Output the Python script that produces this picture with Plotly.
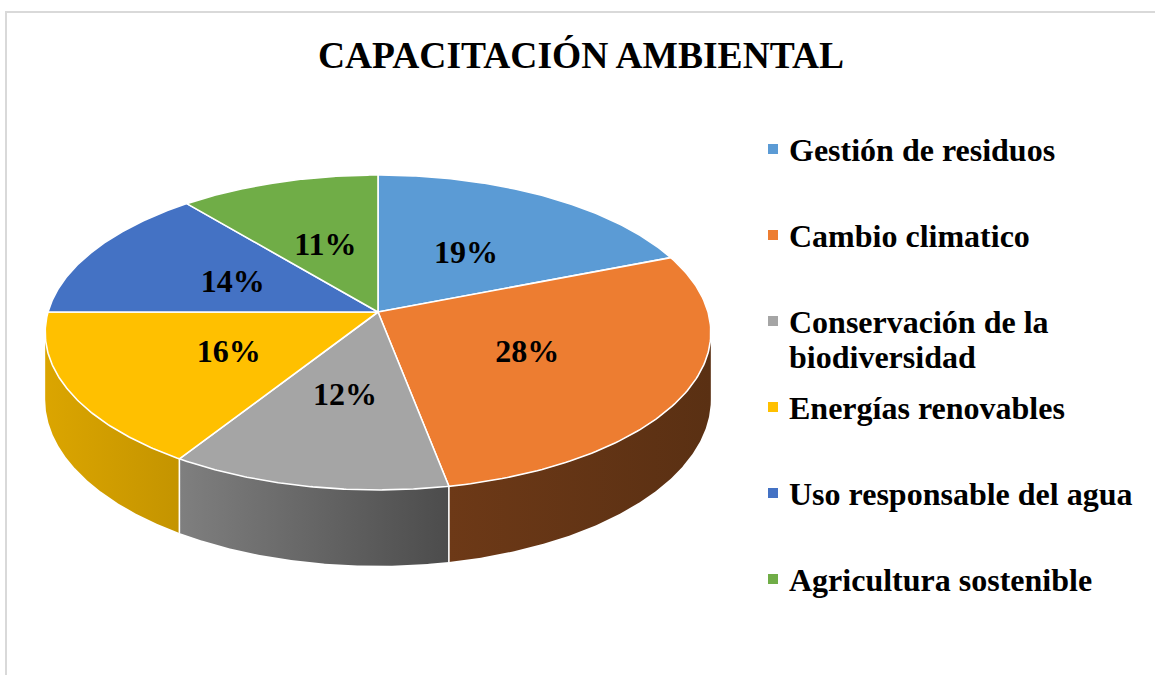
import numpy as np
import plotly.graph_objects as go

# ---------------- data ----------------
categories = ["Gestión de residuos", "Cambio climatico", "Conservación de la biodiversidad",
              "Energías renovables", "Uso responsable del agua", "Agricultura sostenible"]
legend_lines = [["Gestión de residuos"], ["Cambio climatico"], ["Conservación de la", "biodiversidad"],
                ["Energías renovables"], ["Uso responsable del agua"], ["Agricultura sostenible"]]
values = [19, 28, 12, 16, 14, 11]
colors = ["#5B9BD5", "#ED7D31", "#A5A5A5", "#FFC000", "#4472C4", "#70AD47"]
title_text = "CAPACITACIÓN AMBIENTAL"

# ---------------- 3D pie geometry (perspective projection of a disc) ----------------
CX, CY = 378.0, 312.0      # projected centre of the top face (pixels)
A, B = 330.0, 154.8        # horizontal / depth radii
K = 0.13                   # perspective strength
H = 66.0                   # thickness
SIL = np.degrees(np.arccos(-K))  # silhouette angle (~97.5 deg)

def proj(r, phi_deg, z=0.0):
    ph = np.radians(phi_deg)
    u = r * np.sin(ph)
    v = -r * np.cos(ph)
    s = 1.0 / (1.0 - K * v)
    return CX + A * u * s, CY + (B * v + z * H) * s

FONT = "Liberation Serif"
total = float(sum(values))
bounds = np.concatenate([[0.0], np.cumsum(values)]) / total * 360.0

def shade(hex_color, f):
    h = hex_color.lstrip("#")
    r, g, b = (int(h[i:i + 2], 16) for i in (0, 2, 4))
    return "rgb(%d,%d,%d)" % (round(r * f), round(g * f), round(b * f))

def light(x):
    return float(np.interp(x, [45, 180, 457, 711], [0.86, 0.77, 0.45, 0.38]))

fig = go.Figure()

# side walls (front half only), one polygon per slice with a horizontal gradient
for i, col in enumerate(colors):
    a0, a1 = bounds[i], bounds[i + 1]
    b0, b1 = max(a0, SIL), min(a1, 360.0 - SIL)
    if b1 <= b0:
        continue
    ts = np.linspace(b0, b1, 200)
    xt, yt = proj(1.0, ts)
    xb, yb = proj(1.0, ts[::-1], 1.0)
    xs = np.concatenate([xt, xb, xt[:1]])
    ys = np.concatenate([yt, yb, yt[:1]])
    cl, cr = shade(col, light(xs.min())), shade(col, light(xs.max()))
    fig.add_trace(go.Scatter(
        x=xs, y=ys, fill="toself",
        fillgradient=dict(type="horizontal", colorscale=[[0, cl], [1, cr]]),
        mode="lines", line=dict(width=0), hoverinfo="skip", showlegend=False))

# white separators on the side wall
for bd in bounds[1:-1]:
    if SIL < bd < 360.0 - SIL:
        xt, yt = proj(1.0, bd)
        xb, yb = proj(1.0, bd, 1.0)
        fig.add_trace(go.Scatter(x=[xt, xb], y=[yt, yb], mode="lines",
                                 line=dict(color="white", width=1.6),
                                 hoverinfo="skip", showlegend=False))

# top faces
for i, (cat, col) in enumerate(zip(categories, colors)):
    ts = np.linspace(bounds[i], bounds[i + 1], 120)
    xa, ya = proj(1.0, ts)
    fig.add_trace(go.Scatter(
        x=np.concatenate([[CX], xa, [CX]]), y=np.concatenate([[CY], ya, [CY]]),
        fill="toself", fillcolor=col, mode="lines", line=dict(color="white", width=1.6),
        name=cat, hoverinfo="name", showlegend=False))

# percentage labels
mids = (bounds[:-1] + bounds[1:]) / 2
lx, ly = proj(0.5, mids)
LABEL_DY = 4  # small downward nudge so glyphs sit visually centred
fig.add_trace(go.Scatter(
    x=lx, y=ly + LABEL_DY, mode="text", text=["%d%%" % v for v in values],
    textfont=dict(family=FONT, size=32, color="black", weight="bold"),
    textposition="middle center", hoverinfo="skip", showlegend=False))

# legend (manual, evenly spaced entries)
LEG_X, LEG_Y0, LEG_STEP, LINE_STEP = 773, 150, 86, 35
idx = np.arange(len(categories))
fig.add_trace(go.Scatter(
    x=np.full(len(categories), LEG_X), y=LEG_Y0 - 1 + LEG_STEP * idx, mode="markers",
    marker=dict(symbol="square", size=10, color=colors, line=dict(width=0)),
    hoverinfo="skip", showlegend=False))
annotations = []
for i, lines in enumerate(legend_lines):
    for j, ln in enumerate(lines):
        annotations.append(dict(
            x=LEG_X + 14, y=LEG_Y0 + LEG_STEP * i + LINE_STEP * j, xref="x", yref="y",
            text=ln, showarrow=False, xanchor="left", yanchor="middle",
            font=dict(family=FONT, size=32, color="black", weight="bold")))

fig.update_layout(
    width=1155, height=675,
    margin=dict(l=0, r=0, t=0, b=0),
    paper_bgcolor="white", plot_bgcolor="white",
    xaxis=dict(range=[0, 1155], visible=False, fixedrange=True),
    yaxis=dict(range=[675, 0], visible=False, fixedrange=True),
    title=dict(text=title_text, x=581 / 1155, xanchor="center", y=1 - 55 / 675, yanchor="middle",
               font=dict(family=FONT, size=37.5, color="black", weight="bold")),
    annotations=annotations,
    shapes=[dict(type="rect", xref="x", yref="y", x0=6, y0=12, x1=1175, y1=695,
                 line=dict(color="#D9D9D9", width=2), fillcolor="rgba(0,0,0,0)", layer="below")],
    showlegend=False,
)

fig.write_html("out.html", config={"displayModeBar": False},
               post_script="document.body.style.margin='0';document.body.style.overflow='hidden';")
